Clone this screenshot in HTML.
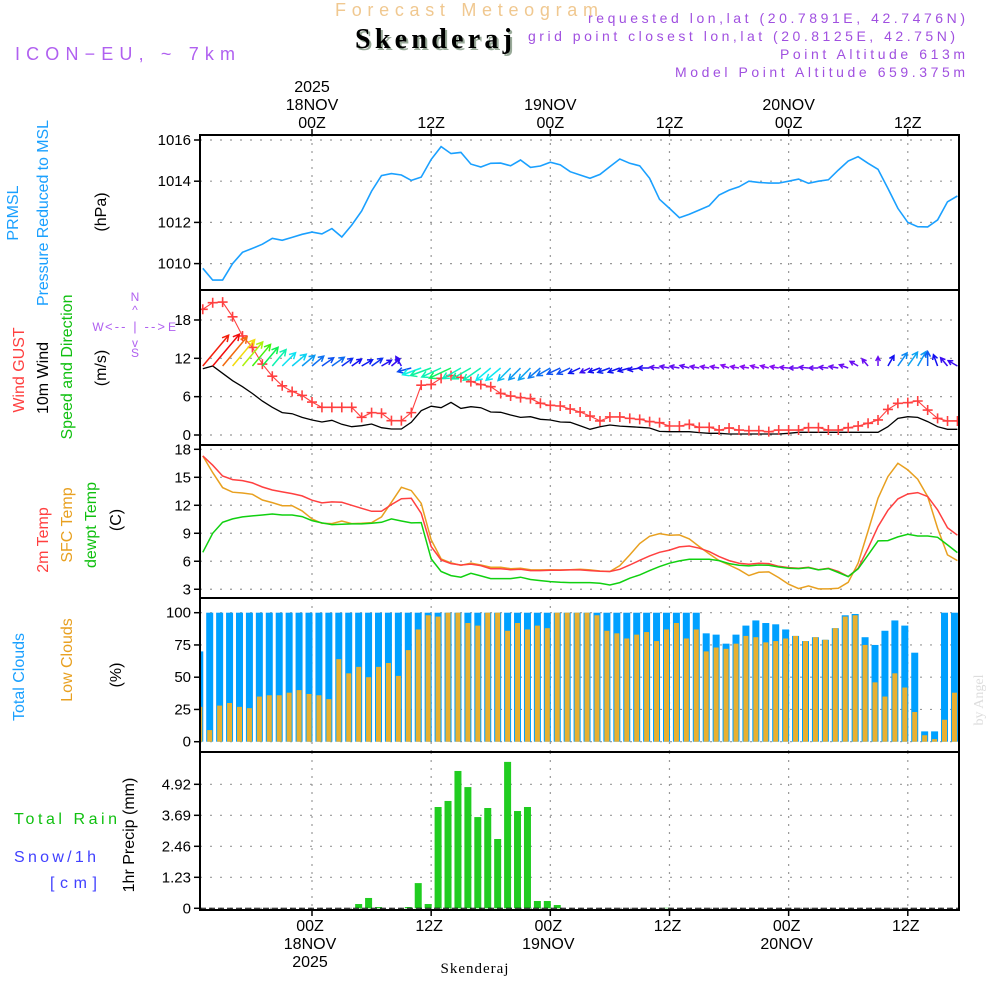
<!DOCTYPE html>
<html><head><meta charset="utf-8"><title>Forecast Meteogram Skenderaj</title>
<style>
html,body{margin:0;padding:0;background:#fff;}
#wrap{position:relative;width:1000px;height:1000px;overflow:hidden;font-family:"Liberation Sans",sans-serif;}
svg text{font-family:"Liberation Sans",sans-serif;}
</style></head>
<body>
<div id="wrap">
<svg id="chart" width="1000" height="1000" viewBox="0 0 1000 1000" xmlns="http://www.w3.org/2000/svg">
  <text x="335" y="16" font-size="18" fill="#f0c890" textLength="263" lengthAdjust="spacing">Forecast Meteogram</text>
  <text x="357" y="50" font-size="28" font-weight="bold" fill="#9a9" textLength="157" style="font-family:'Liberation Serif',serif">Skenderaj</text>
  <text x="355" y="48" font-size="28" font-weight="bold" fill="#000" textLength="157" style="font-family:'Liberation Serif',serif">Skenderaj</text>
  <text x="15" y="60" font-size="18" fill="#b060f0" textLength="220" lengthAdjust="spacing">ICON−EU, ~ 7km</text>
  <g font-size="14" fill="#a050e0">
    <text x="588" y="23" textLength="377" lengthAdjust="spacing">requested lon,lat (20.7891E, 42.7476N)</text>
    <text x="528" y="41" textLength="427" lengthAdjust="spacing">grid point closest lon,lat (20.8125E, 42.75N)</text>
    <text x="780" y="59" textLength="185" lengthAdjust="spacing">Point Altitude 613m</text>
    <text x="675" y="77" textLength="290" lengthAdjust="spacing">Model Point Altitude 659.375m</text>
  </g>
  <text transform="translate(983,700) rotate(-90)" font-size="14" fill="#ddd" text-anchor="middle" style="font-family:'Liberation Serif',serif">by Angel</text>

  <g font-size="16" text-anchor="middle">
    <text transform="translate(18,213) rotate(-90)" fill="#1aa0ff">PRMSL</text>
    <text transform="translate(48,213) rotate(-90)" fill="#1aa0ff" textLength="186">Pressure Reduced to MSL</text>
    <text transform="translate(106,212) rotate(-90)" fill="#000">(hPa)</text>
    <text transform="translate(24,370) rotate(-90)" fill="#ff4040">Wind GUST</text>
    <text transform="translate(48,378) rotate(-90)" fill="#000">10m Wind</text>
    <text transform="translate(72,367) rotate(-90)" fill="#10c010" textLength="145">Speed and Direction</text>
    <text transform="translate(106,368) rotate(-90)" fill="#000">(m/s)</text>
    <text transform="translate(48,540) rotate(-90)" fill="#ff4040">2m Temp</text>
    <text transform="translate(72,525) rotate(-90)" fill="#e8a020">SFC Temp</text>
    <text transform="translate(96,525) rotate(-90)" fill="#10c010">dewpt Temp</text>
    <text transform="translate(121,520) rotate(-90)" fill="#000">(C)</text>
    <text transform="translate(24,677) rotate(-90)" fill="#1aa0ff">Total Clouds</text>
    <text transform="translate(72,660) rotate(-90)" fill="#e8a020">Low Clouds</text>
    <text transform="translate(121,675) rotate(-90)" fill="#000">(%)</text>
    <text transform="translate(134,835) rotate(-90)" fill="#000">1hr Precip (mm)</text>
  </g>
  <g font-size="16">
    <text x="14" y="824" fill="#10c010" textLength="103" lengthAdjust="spacing">Total  Rain</text>
    <text x="14" y="862" fill="#4040ff" textLength="82" lengthAdjust="spacing">Snow/1h</text>
    <text x="50" y="888" fill="#4040ff" textLength="47" lengthAdjust="spacing">[cm]</text>
  </g>
  <g fill="#b060f0" stroke="none" font-size="12" text-anchor="middle">
    <text x="135" y="301">N</text><text x="135" y="357">S</text>
    <text x="98" y="331">W</text><text x="172" y="331">E</text>
    <text x="135" y="331" font-size="13" textLength="60" lengthAdjust="spacing">&lt;-- | --&gt;</text>
    <text x="135" y="314">^</text><text x="135" y="347">v</text>
  </g>
  <g id="plots"></g>
</svg>
</div>
<script>
// ===== data =====
const hours = [];
for (let h = -11; h <= 65; h++) hours.push(h);
const pressure = [1009.77,1009.2,1009.2,1010.0,1010.55,1010.74,1010.94,1011.23,1011.13,1011.27,1011.42,1011.53,1011.44,1011.7,1011.29,1011.87,1012.55,1013.52,1014.27,1014.37,1014.3,1014.04,1014.2,1015.06,1015.68,1015.34,1015.4,1014.83,1014.69,1014.87,1014.88,1014.75,1015.03,1014.67,1014.74,1014.92,1014.79,1014.46,1014.3,1014.14,1014.33,1014.71,1015.08,1014.87,1014.75,1014.14,1013.12,1012.68,1012.23,1012.4,1012.6,1012.81,1013.33,1013.57,1013.73,1014.0,1013.94,1013.91,1013.91,1014.0,1014.1,1013.9,1014.0,1014.07,1014.54,1014.98,1015.19,1014.87,1014.58,1013.65,1012.68,1012.0,1011.79,1011.78,1012.12,1013.0,1013.28];
const gust = [19.67,20.7,20.8,18.5,15.5,13.7,11.1,9.2,7.7,6.8,6.2,5.16,4.33,4.33,4.33,4.33,2.76,3.5,3.4,2.24,2.24,3.5,7.8,7.9,8.87,9.3,9.0,8.35,7.9,7.56,6.5,6.1,5.84,5.7,4.96,4.64,4.54,4.07,3.6,2.97,2.2,2.82,2.82,2.6,2.45,2.1,1.93,1.41,1.41,1.67,1.2,1.2,0.78,1.1,0.78,0.68,0.68,0.52,0.78,0.78,0.78,1.15,1.15,0.78,0.78,1.15,1.41,1.83,2.35,4.0,4.96,5.06,5.32,3.91,2.6,2.2,2.2];
const wind10m = [10.38,10.8,9.65,8.5,7.56,6.5,5.3,4.33,3.5,3.34,2.76,2.35,2.03,2.3,1.67,1.3,1.46,1.72,1.15,0.94,0.94,1.98,3.8,4.5,4.28,5.1,4.17,4.43,4.28,3.6,3.55,3.13,2.76,2.87,2.45,2.35,2.03,1.98,1.46,0.89,1.3,1.56,1.4,1.3,1.2,1.1,0.57,0.52,0.52,0.52,0.37,0.26,0.26,0.16,0.16,0.16,0.16,0.16,0.16,0.26,0.42,0.42,0.42,0.42,0.42,0.42,0.42,0.42,0.42,1.3,2.6,2.87,2.76,2.1,1.3,0.89,0.89];
const windDir = [50,50,50,50,50,50,50,50,45,40,40,40,35,35,35,35,30,35,30,40,120,195,200,200,205,205,210,210,215,220,220,225,225,225,220,210,205,205,205,205,200,200,200,195,190,180,175,170,170,165,170,170,170,160,170,170,165,165,170,175,180,175,180,175,170,160,150,130,90,60,55,55,60,90,110,130,150];
const temp2m = [17.29,16.3,15.14,14.75,14.64,14.4,13.96,13.64,13.43,13.25,13.0,12.54,12.25,12.36,12.32,12.0,11.68,11.36,11.36,12.07,12.71,12.75,11.14,7.57,6.14,5.75,5.6,5.7,5.54,5.2,5.2,5.1,5.14,5.0,5.0,5.04,5.04,5.07,5.07,5.0,4.93,4.9,5.14,5.6,6.1,6.57,6.96,7.2,7.54,7.64,7.4,7.04,6.5,6.07,5.79,5.68,5.79,5.75,5.46,5.32,5.25,5.36,5.1,5.25,4.9,4.36,5.25,7.4,9.71,11.46,12.68,13.21,13.36,12.93,11.5,9.6,8.79];
const tempSfc = [17.29,15.5,13.9,13.4,13.32,13.18,12.57,12.29,11.96,11.96,11.4,10.54,10.07,10.04,10.32,10.04,10.07,10.14,10.75,12.32,13.93,13.57,12.21,8.29,6.25,5.82,5.57,5.79,5.6,5.36,5.36,5.2,5.25,5.1,5.07,5.1,5.07,5.1,5.14,5.07,4.96,4.9,5.54,6.68,7.9,8.68,8.96,8.79,8.82,8.4,7.57,6.79,6.07,5.6,5.1,4.46,4.82,4.86,4.25,3.54,3.07,3.36,3.04,3.04,3.1,3.75,5.79,9.25,12.75,15.07,16.5,15.79,14.79,12.93,9.54,6.68,6.07];
const dewpoint = [6.96,9.0,10.18,10.54,10.75,10.86,10.96,11.07,10.96,10.96,10.79,10.36,10.11,9.93,9.96,10.0,10.0,10.07,10.18,10.54,10.32,10.11,10.14,6.25,4.9,4.46,4.29,4.71,4.43,4.14,4.14,4.14,4.29,4.04,3.93,3.82,3.75,3.71,3.71,3.71,3.64,3.46,3.71,4.18,4.54,5.0,5.43,5.79,6.04,6.21,6.21,6.21,6.07,5.75,5.57,5.5,5.6,5.57,5.39,5.25,5.21,5.32,5.07,5.21,4.79,4.36,5.18,6.68,8.18,8.21,8.61,8.89,8.71,8.71,8.57,7.75,6.93];
const totalClouds = [70,100,100,100,100,100,100,100,100,100,100,100,100,100,100,100,100,100,100,100,100,100,100,100,100,100,100,100,100,100,100,100,100,100,100,100,100,100,100,100,100,100,100,100,100,100,100,100,100,100,100,84,83,76,83,90,94,92,91,87,82,78,81,79,88,98,99,81,75,86,94,90,69,8,8,100,100];
const lowClouds = [27,9,28,30,27,26,35,36,36,38,40,37,36,33,64,53,58,50,58,61,51,71,87,98,97,100,100,92,90,100,100,86,92,87,90,88,100,100,100,100,98,86,84,80,83,85,78,87,92,80,87,70,73,72,76,82,81,77,78,80,82,78,81,79,88,97,98,75,46,35,53,42,23,5,2,17,38];
const precip = [0,0,0,0,0,0,0,0,0,0,0,0,0,0,0,0,0.17,0.41,0.05,0,0,0.05,1.0,0.17,4.02,4.26,5.45,4.81,3.62,3.98,2.75,5.81,3.86,4.02,0.29,0.29,0.13,0,0,0,0,0,0,0,0,0,0,0.02,0,0,0,0,0,0,0,0,0,0,0,0,0,0,0,0,0,0,0,0,0,0,0,0,0,0,0,0,0];
const pressureTicks = [1010,1012,1014,1016];
const windTicks = [0,6,12,18];
const tempTicks = [3,6,9,12,15,18];
const cloudTicks = [0,25,50,75,100];
const precipTicks = [0,1.23,2.46,3.69,4.92];
const timeTicks = [0,12,24,36,48,60];
const timeLabels = ["00Z","12Z","00Z","12Z","00Z","12Z"];
const dateLabels = ["18NOV","","19NOV","","20NOV",""];

// ===== scales =====
const X0 = 200, X1 = 959;
const xOf = h => 312 + 9.93 * h;
const yP = p => 140 + (1016 - p) * 20.6;
const yW = v => 435 - v * 6.39;
const yT = t => 449.3 + (18 - t) * 9.33;
const yC = c => 741.7 - c * 1.29;
const yR = r => 908.3 - r * 25.2;
const panels = [[135,290],[290,445],[445,598],[598,752],[752,910]];

const NS = "http://www.w3.org/2000/svg";
const root = document.getElementById("plots");
function mk(tag, attrs, parent) {
  const e = document.createElementNS(NS, tag);
  for (const k in attrs) e.setAttribute(k, attrs[k]);
  (parent || root).appendChild(e);
  return e;
}
function clipFor(i){
  const c = mk("clipPath", {id: "clip" + i});
  mk("rect", {x: X0, y: panels[i][0], width: X1 - X0, height: panels[i][1] - panels[i][0]}, c);
  return "url(#clip" + i + ")";
}

// grids
panels.forEach((p, i) => {
  timeTicks.forEach(t => {
    const g = mk("line", {x1: xOf(t), x2: xOf(t), y1: p[0], y2: p[1], stroke: "#999", "stroke-width": 1.2, "stroke-dasharray": "2,6"});
    
    
  });
});
function yAxis(ticks, yf, fmt, name) {
  ticks.forEach(t => {
    const y = yf(t);
    const gl = mk("line", {x1: X0, x2: X1, y1: y, y2: y, stroke: "#999", "stroke-width": 1.2, "stroke-dasharray": "2,8"});
    
    
    mk("line", {x1: X0 - 6, x2: X0, y1: y, y2: y, stroke: "#000", "stroke-width": 1.5});
    const tx = mk("text", {x: X0 - 9, y: y + 5, "font-size": 15, "text-anchor": "end", fill: "#000"});
    tx.textContent = fmt(t);
    
    
  });
}
yAxis(pressureTicks, yP, String, "pressure");
yAxis(windTicks, yW, String, "wind");
yAxis(tempTicks, yT, String, "temp");
yAxis(cloudTicks, yC, String, "cloud");
yAxis(precipTicks, yR, t => t === 0 ? "0" : t.toFixed(2), "precip");

function linePath(vals, yf) {
  return vals.map((v, i) => (i ? "L" : "M") + xOf(hours[i]).toFixed(1) + "," + yf(v).toFixed(1)).join("");
}

// pressure
const pl = mk("path", {d: linePath(pressure, yP), fill: "none", stroke: "#1aa0ff", "stroke-width": 1.6, "clip-path": clipFor(0)});



// wind
const wclip = clipFor(1);
const wl = mk("path", {d: linePath(wind10m, yW), fill: "none", stroke: "#000", "stroke-width": 1.3, "clip-path": wclip});


const gl = mk("path", {d: linePath(gust, yW), fill: "none", stroke: "#ff4040", "stroke-width": 1.1, "clip-path": wclip});


gust.forEach((v, i) => {
  const x = xOf(hours[i]), y = yW(v);
  const m = mk("path", {d: `M${x-5},${y}h10M${x},${y-5}v10`, stroke: "#ff4040", "stroke-width": 1.6, "clip-path": wclip});
  
  
});
windDir.forEach((d, i) => {
  const v = wind10m[i];
  const len = 8 + v * 3.1;
  const x = xOf(hours[i]), y = (d > 150 && d < 260) ? 368 : 366;
  const a = d * Math.PI / 180;
  const ex = x + len * Math.cos(a), ey = y - len * Math.sin(a);
  const hl = Math.min(7, 3 + len * 0.2);
  const a1 = a + Math.PI - 0.5, a2 = a + Math.PI + 0.5;
  const hue = Math.max(0, Math.min(275, 275 - v * 26));
  const col = `hsl(${hue},90%,50%)`;
  const ar = mk("path", {d: `M${x},${y}L${ex},${ey}M${ex + hl*Math.cos(a1)},${ey - hl*Math.sin(a1)}L${ex},${ey}L${ex + hl*Math.cos(a2)},${ey - hl*Math.sin(a2)}`, fill: "none", stroke: col, "stroke-width": 1.5, "clip-path": wclip});
  
  
});

// temperature
const tclip = clipFor(2);
[[tempSfc, "#e8a020", "sfc-temp-line"], [temp2m, "#ff4040", "temp-2m-line"], [dewpoint, "#10d010", "dewpoint-line"]].forEach(s => {
  const l = mk("path", {d: linePath(s[0], yT), fill: "none", stroke: s[1], "stroke-width": 1.5, "clip-path": tclip});
  
  
});

// clouds
const cclip = clipFor(3);
totalClouds.forEach((c, i) => {
  const xc = xOf(hours[i]) - 3;
  const b = mk("rect", {x: xc - 3.5, y: yC(c), width: 7, height: yC(0) - yC(c), fill: "#00a0ff", "clip-path": cclip});
  
  
  const lc = lowClouds[i];
  const b2 = mk("rect", {x: xc - 2.5, y: yC(lc), width: 5, height: yC(0) - yC(lc), fill: "#e8b030", "clip-path": cclip});
  
  
});

// precip
const rclip = clipFor(4);
precip.forEach((r, i) => {
  if (r <= 0) return;
  const xc = xOf(hours[i]) - 3;
  const b = mk("rect", {x: xc - 3.5, y: yR(r), width: 7, height: yR(0) - yR(r), fill: "#20cc20", "clip-path": rclip});
  
  
});
const bl = mk("line", {x1: X0, x2: X1, y1: yR(0), y2: yR(0), stroke: "#000", "stroke-width": 1, "stroke-dasharray": "6,3"});



// frames
panels.forEach(p => {
  const f = mk("rect", {x: X0, y: p[0], width: X1 - X0, height: p[1] - p[0], fill: "none", stroke: "#000", "stroke-width": 2});
  
  
});

// time labels
timeTicks.forEach((t, i) => {
  const x = xOf(t);
  mk("line", {x1: x, x2: x, y1: 129, y2: 135, stroke: "#000", "stroke-width": 1.5});
  mk("line", {x1: x, x2: x, y1: 910, y2: 916, stroke: "#000", "stroke-width": 1.5});
  const a = mk("text", {x: x, y: 128, "font-size": 16, "text-anchor": "middle", fill: "#000"});
  a.textContent = timeLabels[i];
  
  
  const b = mk("text", {x: x - 2, y: 931, "font-size": 16, "text-anchor": "middle", fill: "#000"});
  b.textContent = timeLabels[i];
  
  
  if (dateLabels[i]) {
    const d = mk("text", {x: x, y: 110, "font-size": 16, "text-anchor": "middle", fill: "#000"});
    d.textContent = dateLabels[i];
    
    
    const d2 = mk("text", {x: x - 2, y: 949, "font-size": 16, "text-anchor": "middle", fill: "#000"});
    d2.textContent = dateLabels[i];
    
    
  }
});
const y1 = mk("text", {x: xOf(0), y: 92, "font-size": 16, "text-anchor": "middle", fill: "#000"});
y1.textContent = "2025";


const y2 = mk("text", {x: xOf(0) - 2, y: 967, "font-size": 16, "text-anchor": "middle", fill: "#000"});
y2.textContent = "2025";


const loc = mk("text", {x: 475, y: 973, "font-size": 15, "text-anchor": "middle", fill: "#000", style: "font-family:'Liberation Serif',serif", "letter-spacing": "1"});
loc.textContent = "Skenderaj";


</script>
</body></html>
